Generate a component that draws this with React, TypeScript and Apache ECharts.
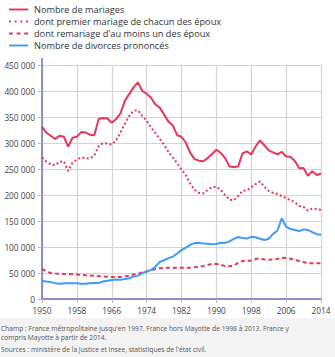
import React, { useEffect, useRef } from "react";
import * as echarts from "echarts";

const years: string[] = [];
for (let y = 1950; y <= 2014; y++) years.push(String(y));

const marriages = [
  331000, 320000, 314000, 308000, 314000, 312000, 293000, 310000, 312000, 321000,
  320000, 316000, 315000, 346000, 348000, 347000, 339000, 346000, 357000, 381000,
  394000, 407000, 416500, 400000, 395000, 387000, 374000, 368000, 355000, 341000,
  334000, 315000, 312000, 300500, 281000, 269000, 266000, 265000, 271000, 279000,
  287000, 281000, 271000, 255000, 254000, 255000, 280000, 284000, 278000, 293500,
  305000, 295700, 286000, 282000, 278000, 283000, 274000, 273600, 265400, 251500,
  251700, 236800, 245900, 238600, 241300,
];

const firstMarriages = [
  272000, 264000, 259000, 257000, 264000, 265000, 246000, 262000, 268000, 272000,
  271000, 270000, 276000, 294000, 300000, 299000, 297000, 305000, 320000, 337000,
  352000, 362000, 363000, 352000, 343000, 330000, 319000, 308000, 297000, 283000,
  272000, 261000, 249000, 238000, 222000, 210000, 204000, 203000, 210000, 215000,
  216000, 210000, 200000, 191000, 190000, 198000, 208000, 209000, 215000, 221000,
  226000, 216000, 208000, 204000, 202000, 198000, 194000, 190000, 186000, 179000,
  177000, 170000, 174000, 173000, 171000,
];

const remarriages = [
  58000, 53000, 50000, 49000, 48500, 48300, 48000, 47500, 47000, 46500,
  45500, 45000, 44500, 44000, 43600, 43000, 42500, 42300, 42300, 43500,
  45000, 47000, 49000, 51000, 53000, 55000, 57500, 59300, 60000, 60200,
  60300, 60300, 60300, 60000, 60200, 61000, 62000, 63500, 65500, 67500,
  67500, 66000, 63000, 63000, 64000, 70000, 73000, 73700, 74000, 77000,
  78000, 76000, 75500, 75800, 77000, 79500, 79000, 77500, 75000, 73000,
  71000, 68600, 68600, 68600, 69000,
];

const divorces = [
  34700, 33500, 32500, 30500, 29500, 30500, 30500, 30500, 30500, 29500,
  29500, 30500, 30800, 31000, 33500, 35000, 36500, 37500, 37000, 38500,
  40000, 43000, 45000, 49500, 53000, 56000, 62000, 71500, 74500, 78600,
  81100, 87600, 93900, 98700, 104000, 107500, 108000, 106500, 106100, 105300,
  105800, 108100, 107900, 110900, 115700, 119200, 117400, 116200, 119500, 118600,
  116000, 113500, 115900, 125200, 131300, 155300, 139100, 134500, 132600, 130600,
  133900, 132600, 128500, 124600, 123500,
];

const seriesNames = [
  "Nombre de mariages",
  "dont premier mariage de chacun des époux",
  "dont remariage d'au moins un des époux",
  "Nombre de divorces prononcés",
];

const footLines = [
  "Champ : France métropolitaine jusqu'en 1997. France hors Mayotte de 1998 à 2013. France y",
  "compris Mayotte à partir de 2014.",
  "Sources : ministère de la Justice et Insee, statistiques de l'état civil.",
];

const RED = "#e6375a";
const BLUE = "#3d9cf5";
const FONT = "'Open Sans', sans-serif";

const ICON_SOLID = "path://M0,0h20v2h-20z";
const ICON_DOTTED = "path://M0,0h2v2h-2zM6,0h2v2h-2zM12,0h2v2h-2zM18,0h2v2h-2z";
const ICON_DASHED = "path://M0,0h4v2h-4zM8,0h4v2h-4zM16,0h4v2h-4z";

function fmt(v: number): string {
  return String(v).replace(/\B(?=(\d{3})+(?!\d))/g, " ");
}

export default function App() {
  const ref = useRef<HTMLDivElement>(null);
  useEffect(() => {
    document.body.style.margin = "0";
    if (!ref.current) return;
    const chart = echarts.init(ref.current, undefined, { renderer: "svg" });
    const line = (name: string, data: number[], color: string, type: any) => ({
      name,
      type: "line",
      data,
      symbol: "none",
      smooth: false,
      lineStyle: { color, width: 2, type },
      itemStyle: { color },
    });
    chart.setOption({
      animation: false,
      textStyle: { fontFamily: FONT },
      legend: {
        orient: "vertical",
        left: 4,
        top: 0,
        itemWidth: 19,
        itemHeight: 2,
        itemGap: 3,
        data: [
          { name: seriesNames[0], icon: ICON_SOLID },
          { name: seriesNames[1], icon: ICON_DOTTED },
          { name: seriesNames[2], icon: ICON_DASHED },
          { name: seriesNames[3], icon: ICON_SOLID },
        ],
        textStyle: { fontSize: 9.2, color: "#333", fontFamily: FONT, padding: [0, 0, 0, 1] },
      },
      grid: { left: 42, right: 14, top: 65, bottom: 19, containLabel: false },
      xAxis: {
        type: "category",
        data: years,
        boundaryGap: false,
        axisLine: { lineStyle: { color: "#7070c0", width: 1.5 } },
        axisTick: { show: true, interval: 7, length: 4, lineStyle: { color: "#bbb" } },
        axisLabel: { interval: 7, fontSize: 8.3, color: "#444", margin: 7 },
        splitLine: { show: true, interval: 7, lineStyle: { color: "#d4d4d4", width: 1.2 } },
      },
      yAxis: {
        type: "value",
        min: 0,
        max: 450000,
        interval: 50000,
        axisLine: { show: true, lineStyle: { color: "#7070c0", width: 1.5 } },
        axisTick: { show: true, length: 4, lineStyle: { color: "#bbb" } },
        axisLabel: { fontSize: 8.3, color: "#444", margin: 7, formatter: (v: number) => fmt(v) },
        splitLine: { show: true, lineStyle: { color: "#d4d4d4", width: 1.2 } },
      },
      graphic: [
        {
          type: "line",
          shape: { x1: 42, y1: 58, x2: 42, y2: 65 },
          style: { stroke: "#7070c0", lineWidth: 1.5 },
        },
      ],
      series: [
        line(seriesNames[0], marriages, RED, "solid"),
        line(seriesNames[1], firstMarriages, RED, [2, 2.4]),
        line(seriesNames[2], remarriages, RED, [4, 3]),
        line(seriesNames[3], divorces, BLUE, "solid"),
      ],
    });
    return () => chart.dispose();
  }, []);
  return (
    <div style={{ position: "relative", width: 335, height: 357, background: "#fff", overflow: "hidden" }}>
      <div ref={ref} style={{ position: "absolute", left: 0, top: 0, width: 335, height: 318 }} />
      <div
        style={{
          position: "absolute",
          left: 0,
          top: 318,
          width: 335,
          height: 39,
          background: "#f3f3f3",
          fontFamily: FONT,
          fontSize: 6.7,
          color: "#555",
          lineHeight: "9px",
          paddingTop: 6,
          paddingLeft: 1,
          boxSizing: "border-box",
        }}
      >
        <div>{footLines[0]}</div>
        <div>{footLines[1]}</div>
        <div style={{ marginTop: 3 }}>{footLines[2]}</div>
      </div>
    </div>
  );
}
